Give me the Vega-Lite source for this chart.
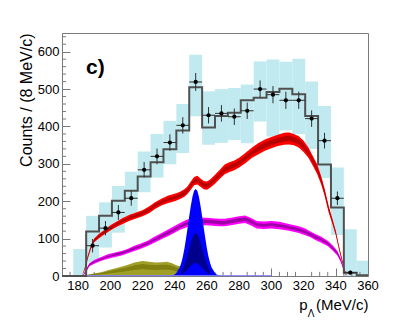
{
  "$schema": "https://vega.github.io/schema/vega-lite/v6.json",
  "width": 306,
  "height": 243,
  "autosize": {"type": "none"},
  "padding": {"left": 62, "top": 33, "right": 41, "bottom": 51},
  "background": "white",
  "config": {"view": {"stroke": "#7a7a7a", "strokeWidth": 1}, "font": "Liberation Sans", "axis": {"labelOverlap": false, "labelFlush": false}},
  "datasets": {
    "boxes": [
      {"x":177,"x2":185,"lo":0,"hi":72},
      {"x":185,"x2":193,"lo":36,"hi":161},
      {"x":193,"x2":201,"lo":76,"hi":197},
      {"x":201,"x2":209,"lo":116,"hi":241},
      {"x":209,"x2":217,"lo":159,"hi":279},
      {"x":217,"x2":225,"lo":224,"hi":333},
      {"x":225,"x2":233,"lo":263,"hi":380},
      {"x":233,"x2":241,"lo":299,"hi":415},
      {"x":241,"x2":249,"lo":329,"hi":460},
      {"x":249,"x2":257,"lo":427,"hi":592},
      {"x":257,"x2":265,"lo":351,"hi":494},
      {"x":265,"x2":273,"lo":356,"hi":500},
      {"x":273,"x2":281,"lo":364,"hi":503},
      {"x":281,"x2":289,"lo":355,"hi":512},
      {"x":289,"x2":297,"lo":413,"hi":574},
      {"x":297,"x2":305,"lo":373,"hi":579},
      {"x":305,"x2":313,"lo":390,"hi":573},
      {"x":313,"x2":321,"lo":380,"hi":581},
      {"x":321,"x2":329,"lo":340,"hi":520},
      {"x":329,"x2":337,"lo":262,"hi":455},
      {"x":337,"x2":345,"lo":110,"hi":290},
      {"x":345,"x2":353,"lo":0,"hi":125},
      {"x":353,"x2":361,"lo":0,"hi":41}
    ],
    "steps": [
      {"x":170,"y":0},{"x":185,"y":119},{"x":193,"y":161},{"x":201,"y":201},{"x":209,"y":228},
      {"x":217,"y":266},{"x":225,"y":304},{"x":233,"y":339},{"x":241,"y":389},{"x":249,"y":505},
      {"x":257,"y":397},{"x":265,"y":428},{"x":273,"y":437},{"x":281,"y":470},{"x":289,"y":477},
      {"x":297,"y":492},{"x":305,"y":501},{"x":313,"y":486},{"x":321,"y":428},{"x":329,"y":298},
      {"x":337,"y":183},{"x":345,"y":9},{"x":353,"y":2},{"x":360,"y":2}
    ],
    "pts": [
      {"x":189,"y":81,"lo":63,"hi":99,"xl":185,"xh":193},
      {"x":197,"y":128,"lo":109,"hi":147,"xl":193,"xh":201},
      {"x":205,"y":170,"lo":150,"hi":190,"xl":201,"xh":209},
      {"x":213,"y":208,"lo":188,"hi":228,"xl":209,"xh":217},
      {"x":221,"y":284,"lo":263,"hi":305,"xl":217,"xh":225},
      {"x":229,"y":320,"lo":299,"hi":341,"xl":225,"xh":233},
      {"x":237,"y":357,"lo":335,"hi":379,"xl":233,"xh":241},
      {"x":245,"y":403,"lo":381,"hi":425,"xl":241,"xh":249},
      {"x":253,"y":519,"lo":495,"hi":543,"xl":249,"xh":257},
      {"x":261,"y":430,"lo":408,"hi":452,"xl":257,"xh":265},
      {"x":269,"y":435,"lo":413,"hi":457,"xl":265,"xh":273},
      {"x":277,"y":426,"lo":404,"hi":448,"xl":273,"xh":281},
      {"x":285,"y":442,"lo":420,"hi":464,"xl":281,"xh":289},
      {"x":293,"y":500,"lo":477,"hi":523,"xl":289,"xh":297},
      {"x":301,"y":485,"lo":462,"hi":508,"xl":297,"xh":305},
      {"x":309,"y":470,"lo":447,"hi":493,"xl":305,"xh":313},
      {"x":317,"y":470,"lo":447,"hi":493,"xl":313,"xh":321},
      {"x":325,"y":421,"lo":399,"hi":443,"xl":321,"xh":329},
      {"x":333,"y":362,"lo":341,"hi":383,"xl":329,"xh":337},
      {"x":341,"y":208,"lo":190,"hi":226,"xl":337,"xh":345},
      {"x":349,"y":9,"lo":4,"hi":14,"xl":345,"xh":353}
    ],
    "red": [
      {"x":182.5,"lo":0,"hi":1,"ilo":0,"ihi":0},
      {"x":184,"lo":15,"hi":21,"ilo":17,"ihi":19},
      {"x":186,"lo":46,"hi":54,"ilo":48,"ihi":52},
      {"x":188,"lo":73,"hi":83,"ilo":76,"ihi":80},
      {"x":190,"lo":90,"hi":100,"ilo":92,"ihi":98},
      {"x":193,"lo":101,"hi":113,"ilo":104,"ihi":110},
      {"x":196.5,"lo":112,"hi":124,"ilo":115,"ihi":121},
      {"x":200,"lo":122,"hi":136,"ilo":126,"ihi":132},
      {"x":204,"lo":132,"hi":146,"ilo":136,"ihi":142},
      {"x":208,"lo":140,"hi":156,"ilo":145,"ihi":151},
      {"x":212,"lo":148,"hi":164,"ilo":152,"ihi":160},
      {"x":216,"lo":154,"hi":170,"ilo":158,"ihi":166},
      {"x":220,"lo":160,"hi":176,"ilo":164,"ihi":172},
      {"x":224,"lo":168,"hi":186,"ilo":173,"ihi":181},
      {"x":228,"lo":180,"hi":198,"ilo":185,"ihi":193},
      {"x":232,"lo":189,"hi":207,"ilo":194,"ihi":202},
      {"x":236,"lo":195,"hi":215,"ilo":201,"ihi":209},
      {"x":240,"lo":200,"hi":220,"ilo":206,"ihi":214},
      {"x":243,"lo":205,"hi":225,"ilo":210,"ihi":220},
      {"x":246,"lo":212,"hi":232,"ilo":217,"ihi":227},
      {"x":248,"lo":220,"hi":240,"ilo":225,"ihi":235},
      {"x":250,"lo":231,"hi":253,"ilo":237,"ihi":247},
      {"x":252,"lo":243,"hi":265,"ilo":249,"ihi":259},
      {"x":254,"lo":245,"hi":268,"ilo":251,"ihi":261},
      {"x":256,"lo":239,"hi":261,"ilo":245,"ihi":255},
      {"x":258,"lo":232,"hi":254,"ilo":238,"ihi":248},
      {"x":260,"lo":231,"hi":253,"ilo":237,"ihi":247},
      {"x":262,"lo":236,"hi":258,"ilo":242,"ihi":252},
      {"x":265,"lo":247,"hi":271,"ilo":254,"ihi":264},
      {"x":268,"lo":260,"hi":284,"ilo":267,"ihi":277},
      {"x":271,"lo":272,"hi":298,"ilo":279,"ihi":291},
      {"x":274,"lo":278,"hi":304,"ilo":285,"ihi":297},
      {"x":277,"lo":283,"hi":309,"ilo":290,"ihi":302},
      {"x":280,"lo":290,"hi":316,"ilo":297,"ihi":309},
      {"x":284,"lo":302,"hi":330,"ilo":310,"ihi":322},
      {"x":288,"lo":316,"hi":344,"ilo":324,"ihi":336},
      {"x":292,"lo":326,"hi":356,"ilo":334,"ihi":348},
      {"x":296,"lo":335,"hi":365,"ilo":343,"ihi":357},
      {"x":300,"lo":342,"hi":372,"ilo":350,"ihi":364},
      {"x":304,"lo":348,"hi":378,"ilo":356,"ihi":370},
      {"x":308,"lo":351,"hi":383,"ilo":360,"ihi":374},
      {"x":311,"lo":352,"hi":384,"ilo":361,"ihi":375},
      {"x":314,"lo":350,"hi":380,"ilo":358,"ihi":372},
      {"x":317,"lo":344,"hi":374,"ilo":352,"ihi":366},
      {"x":320,"lo":332,"hi":362,"ilo":340,"ihi":354},
      {"x":323,"lo":316,"hi":344,"ilo":324,"ihi":336},
      {"x":326,"lo":293,"hi":319,"ilo":300,"ihi":312},
      {"x":328.5,"lo":272,"hi":298,"ilo":279,"ihi":291},
      {"x":331,"lo":244,"hi":266,"ilo":250,"ihi":260},
      {"x":333,"lo":215,"hi":235,"ilo":220,"ihi":230},
      {"x":335.5,"lo":171,"hi":189,"ilo":176,"ihi":184},
      {"x":338,"lo":138,"hi":152,"ilo":142,"ihi":148},
      {"x":340,"lo":109,"hi":121,"ilo":112,"ihi":118},
      {"x":342,"lo":70,"hi":80,"ilo":73,"ihi":77},
      {"x":344,"lo":36,"hi":44,"ilo":38,"ihi":42},
      {"x":345.5,"lo":12,"hi":18,"ilo":14,"ihi":16},
      {"x":347,"lo":0,"hi":1,"ilo":0,"ihi":0}
    ],
    "mag": [
      {"x":183,"lo":0,"hi":1,"ilo":0,"ihi":0},
      {"x":185,"lo":11,"hi":19,"ilo":13,"ihi":17},
      {"x":187,"lo":26,"hi":34,"ilo":28,"ihi":32},
      {"x":190,"lo":33,"hi":43,"ilo":36,"ihi":40},
      {"x":194,"lo":40,"hi":50,"ilo":43,"ihi":47},
      {"x":198.5,"lo":46,"hi":58,"ilo":50,"ihi":54},
      {"x":203,"lo":51,"hi":63,"ilo":54,"ihi":60},
      {"x":207,"lo":55,"hi":67,"ilo":58,"ihi":64},
      {"x":211,"lo":61,"hi":73,"ilo":64,"ihi":70},
      {"x":215,"lo":67,"hi":81,"ilo":71,"ihi":77},
      {"x":219,"lo":73,"hi":87,"ilo":77,"ihi":83},
      {"x":223.5,"lo":81,"hi":95,"ilo":85,"ihi":91},
      {"x":227,"lo":88,"hi":104,"ilo":93,"ihi":99},
      {"x":231,"lo":97,"hi":113,"ilo":101,"ihi":109},
      {"x":237,"lo":109,"hi":127,"ilo":114,"ihi":122},
      {"x":243,"lo":123,"hi":141,"ilo":128,"ihi":136},
      {"x":247,"lo":130,"hi":150,"ilo":136,"ihi":144},
      {"x":250,"lo":134,"hi":154,"ilo":140,"ihi":149},
      {"x":255,"lo":136,"hi":156,"ilo":141,"ihi":151},
      {"x":260,"lo":136,"hi":156,"ilo":141,"ihi":151},
      {"x":265,"lo":134,"hi":154,"ilo":140,"ihi":149},
      {"x":268,"lo":133,"hi":153,"ilo":138,"ihi":148},
      {"x":271,"lo":133,"hi":153,"ilo":138,"ihi":148},
      {"x":275,"lo":136,"hi":156,"ilo":141,"ihi":151},
      {"x":280,"lo":140,"hi":160,"ilo":145,"ihi":155},
      {"x":283.75,"lo":142,"hi":162,"ilo":147,"ihi":157},
      {"x":287,"lo":136,"hi":156,"ilo":141,"ihi":151},
      {"x":291,"lo":127,"hi":147,"ilo":133,"ihi":141},
      {"x":295,"lo":126,"hi":146,"ilo":132,"ihi":140},
      {"x":300,"lo":127,"hi":147,"ilo":133,"ihi":141},
      {"x":305,"lo":125,"hi":145,"ilo":131,"ihi":139},
      {"x":310,"lo":122,"hi":140,"ilo":127,"ihi":135},
      {"x":313,"lo":119,"hi":137,"ilo":124,"ihi":132},
      {"x":317,"lo":115,"hi":133,"ilo":120,"ihi":128},
      {"x":321,"lo":109,"hi":127,"ilo":114,"ihi":122},
      {"x":324,"lo":104,"hi":120,"ilo":108,"ihi":116},
      {"x":327,"lo":97,"hi":113,"ilo":101,"ihi":109},
      {"x":331,"lo":89,"hi":105,"ilo":94,"ihi":101},
      {"x":335,"lo":80,"hi":94,"ilo":84,"ihi":90},
      {"x":338,"lo":68,"hi":82,"ilo":72,"ihi":78},
      {"x":341,"lo":55,"hi":67,"ilo":58,"ihi":64},
      {"x":343,"lo":38,"hi":48,"ilo":41,"ihi":45},
      {"x":345,"lo":14,"hi":22,"ilo":16,"ihi":20},
      {"x":346.5,"lo":0,"hi":1,"ilo":0,"ihi":0}
    ],
    "blue": [
      {"x":236,"hi":0},{"x":238,"hi":1},{"x":240,"hi":4},{"x":241,"hi":8},{"x":243,"hi":22},
      {"x":244,"hi":34},{"x":245,"hi":51},{"x":246,"hi":73},{"x":247,"hi":100},{"x":248,"hi":129},
      {"x":249,"hi":160},{"x":250,"hi":188},{"x":251,"hi":212},{"x":252,"hi":228},{"x":253,"hi":233},
      {"x":254,"hi":228},{"x":255,"hi":212},{"x":256,"hi":188},{"x":257,"hi":160},{"x":258,"hi":129},
      {"x":259,"hi":100},{"x":260,"hi":73},{"x":261,"hi":51},{"x":262,"hi":34},{"x":263,"hi":22},
      {"x":265,"hi":8},{"x":266,"hi":4},{"x":268,"hi":1},{"x":270,"hi":0}
    ],
    "navy": [
      {"x":244,"lo":4,"hi":13},{"x":245,"lo":6,"hi":20},{"x":246,"lo":9,"hi":31},{"x":247,"lo":13,"hi":43},
      {"x":248,"lo":18,"hi":58},{"x":249,"lo":23,"hi":75},{"x":250,"lo":27,"hi":90},{"x":251,"lo":31,"hi":103},
      {"x":252,"lo":34,"hi":112},{"x":253,"lo":35,"hi":115},{"x":254,"lo":34,"hi":112},{"x":255,"lo":31,"hi":103},
      {"x":256,"lo":27,"hi":90},{"x":257,"lo":23,"hi":75},{"x":258,"lo":18,"hi":58},{"x":259,"lo":13,"hi":43},
      {"x":260,"lo":9,"hi":31},{"x":261,"lo":6,"hi":20},{"x":262,"lo":4,"hi":13}
    ],
    "olive": [
      {"x":183,"hi":0,"ilo":0,"ihi":0},{"x":185,"hi":3,"ilo":1,"ihi":2},{"x":190,"hi":7,"ilo":3,"ihi":6},
      {"x":195,"hi":11,"ilo":5,"ihi":9},{"x":199,"hi":16,"ilo":7,"ihi":13},{"x":205,"hi":23,"ilo":10,"ihi":18},
      {"x":210,"hi":29,"ilo":13,"ihi":23},{"x":215,"hi":36,"ilo":16,"ihi":29},{"x":220,"hi":40,"ilo":18,"ihi":32},
      {"x":224,"hi":38,"ilo":17,"ihi":30},{"x":228,"hi":36,"ilo":16,"ihi":29},{"x":232,"hi":37,"ilo":17,"ihi":30},
      {"x":235,"hi":38,"ilo":17,"ihi":30},{"x":238,"hi":35,"ilo":16,"ihi":28},{"x":241,"hi":29,"ilo":13,"ihi":23},
      {"x":244,"hi":25,"ilo":11,"ihi":20},{"x":247,"hi":21,"ilo":9,"ihi":17},{"x":250,"hi":15,"ilo":7,"ihi":12},
      {"x":253,"hi":9,"ilo":4,"ihi":7},{"x":256,"hi":5,"ilo":2,"ihi":4},{"x":259,"hi":2,"ilo":1,"ihi":2},
      {"x":262,"hi":0,"ilo":0,"ihi":0}
    ],
    "base": [{"x":183,"y":1},{"x":300,"y":1}],
    "xt": [{"v":175},{"v":185},{"v":190},{"v":195},{"v":205},{"v":210},{"v":215},{"v":225},{"v":230},{"v":235},
           {"v":245},{"v":250},{"v":255},{"v":265},{"v":270},{"v":275},{"v":285},{"v":290},{"v":295},
           {"v":305},{"v":310},{"v":315},{"v":325},{"v":330},{"v":335},{"v":345},{"v":350},{"v":355}],
    "yt": [{"v":20},{"v":40},{"v":60},{"v":80},{"v":120},{"v":140},{"v":160},{"v":180},{"v":220},{"v":240},
           {"v":260},{"v":280},{"v":320},{"v":340},{"v":360},{"v":380},{"v":420},{"v":440},{"v":460},{"v":480},
           {"v":520},{"v":540},{"v":560},{"v":580},{"v":620},{"v":640}],
    "xlab": [{"v":180},{"v":200},{"v":220},{"v":240},{"v":260},{"v":280},{"v":300},{"v":320},{"v":340},{"v":360}],
    "labels": [
      {"x":184.9,"y":540,"t":"c)","s":"c"},
      {"x":324.6,"y":-110,"t":"Λ","s":"l"}
    ]
  },
  "layer": [
    {
      "data": {"name": "boxes"},
      "mark": {"type": "rect", "fill": "#c0eaef", "clip": true},
      "encoding": {
        "x": {
          "field": "x", "type": "quantitative",
          "scale": {"domain": [170, 360], "nice": false, "zero": false},
          "axis": {
            "values": [180,200,220,240,260,280,300,320,340,360],
            "labels": false,
            "tickSize": -8,
            "tickColor": "#7a7a7a", "domainColor": "#7a7a7a", "grid": false,
            "title": "p\u00a0\u00a0(MeV/c)", "titleAnchor": "end", "titleFont": "Liberation Sans",
            "titleFontSize": 15, "titleFontWeight": "normal", "titleColor": "black", "titlePadding": 21
          }
        },
        "x2": {"field": "x2"},
        "y": {
          "field": "lo", "type": "quantitative",
          "scale": {"domain": [0, 650], "nice": false, "zero": false},
          "axis": {
            "values": [0,100,200,300,400,500,600],
            "format": "d",
            "labelOverlap": false, "labelFlush": false,
            "labelFont": "Liberation Sans", "labelFontSize": 13, "labelColor": "black",
            "labelPadding": 11,
            "tickSize": -8,
            "tickColor": "#7a7a7a", "domainColor": "#7a7a7a", "grid": false,
            "title": "Counts / (8 MeV/c)", "titleAnchor": "end", "titleFont": "Liberation Sans",
            "titleFontSize": 16, "titleFontWeight": "normal", "titleColor": "black", "titlePadding": 3
          }
        },
        "y2": {"field": "hi"}
      }
    },
    {
      "data": {"name": "xt"},
      "mark": {"type": "rule", "color": "#7a7a7a", "strokeWidth": 1},
      "encoding": {"x": {"field": "v", "type": "quantitative"}, "y": {"datum": 0, "type": "quantitative"}, "y2": {"datum": 11}}
    },
    {
      "data": {"name": "yt"},
      "mark": {"type": "rule", "color": "#7a7a7a", "strokeWidth": 1},
      "encoding": {"y": {"field": "v", "type": "quantitative"}, "x": {"datum": 170, "type": "quantitative"}, "x2": {"datum": 172.5}}
    },
    {
      "data": {"name": "olive"},
      "mark": {"type": "area", "color": "#a0a028", "opacity": 1},
      "encoding": {"x": {"field": "x", "type": "quantitative"}, "y": {"field": "hi", "type": "quantitative"}, "y2": {"datum": 0}}
    },
    {
      "data": {"name": "olive"},
      "mark": {"type": "area", "color": "#808010"},
      "encoding": {"x": {"field": "x", "type": "quantitative"}, "y": {"field": "ilo", "type": "quantitative"}, "y2": {"field": "ihi"}}
    },
    {
      "data": {"name": "red"},
      "mark": {"type": "area", "color": "#ff0000"},
      "encoding": {"x": {"field": "x", "type": "quantitative"}, "y": {"field": "lo", "type": "quantitative"}, "y2": {"field": "hi"}}
    },
    {
      "data": {"name": "red"},
      "mark": {"type": "area", "color": "#b80000"},
      "encoding": {"x": {"field": "x", "type": "quantitative"}, "y": {"field": "ilo", "type": "quantitative"}, "y2": {"field": "ihi"}}
    },
    {
      "data": {"name": "mag"},
      "mark": {"type": "area", "color": "#ff00ff"},
      "encoding": {"x": {"field": "x", "type": "quantitative"}, "y": {"field": "lo", "type": "quantitative"}, "y2": {"field": "hi"}}
    },
    {
      "data": {"name": "mag"},
      "mark": {"type": "area", "color": "#a000a8"},
      "encoding": {"x": {"field": "x", "type": "quantitative"}, "y": {"field": "ilo", "type": "quantitative"}, "y2": {"field": "ihi"}}
    },
    {
      "data": {"name": "blue"},
      "mark": {"type": "area", "color": "#0000ff"},
      "encoding": {"x": {"field": "x", "type": "quantitative"}, "y": {"field": "hi", "type": "quantitative"}, "y2": {"datum": 0}}
    },
    {
      "data": {"name": "navy"},
      "mark": {"type": "area", "color": "#00008c"},
      "encoding": {"x": {"field": "x", "type": "quantitative"}, "y": {"field": "lo", "type": "quantitative"}, "y2": {"field": "hi"}}
    },
    {
      "data": {"name": "base"},
      "mark": {"type": "line", "color": "#8080ff", "strokeWidth": 1},
      "encoding": {"x": {"field": "x", "type": "quantitative"}, "y": {"field": "y", "type": "quantitative"}}
    },
    {
      "data": {"name": "steps"},
      "mark": {"type": "line", "interpolate": "step-after", "color": "#505050", "strokeWidth": 2},
      "encoding": {"x": {"field": "x", "type": "quantitative"}, "y": {"field": "y", "type": "quantitative"}}
    },
    {
      "data": {"name": "pts"},
      "mark": {"type": "rule", "color": "#303030", "strokeWidth": 1},
      "encoding": {"x": {"field": "x", "type": "quantitative"}, "y": {"field": "lo", "type": "quantitative"}, "y2": {"field": "hi"}}
    },
    {
      "data": {"name": "pts"},
      "mark": {"type": "rule", "color": "#303030", "strokeWidth": 1},
      "encoding": {"x": {"field": "xl", "type": "quantitative"}, "x2": {"field": "xh"}, "y": {"field": "y", "type": "quantitative"}}
    },
    {
      "data": {"name": "pts"},
      "mark": {"type": "point", "shape": "circle", "filled": true, "color": "black", "size": 18, "opacity": 1},
      "encoding": {"x": {"field": "x", "type": "quantitative"}, "y": {"field": "y", "type": "quantitative"}}
    },
    {
      "data": {"name": "xlab"},
      "mark": {"type": "text", "font": "Liberation Sans", "fontSize": 13, "align": "center", "baseline": "top", "color": "black"},
      "encoding": {"x": {"field": "v", "type": "quantitative"}, "y": {"datum": -10.7, "type": "quantitative"}, "text": {"field": "v", "type": "quantitative", "format": "d"}}
    },
    {
      "data": {"name": "labels"},
      "transform": [{"filter": "datum.s === 'c'"}],
      "mark": {"type": "text", "font": "Liberation Sans", "fontSize": 21, "fontWeight": "bold", "align": "left", "baseline": "alphabetic", "color": "black"},
      "encoding": {"x": {"field": "x", "type": "quantitative"}, "y": {"field": "y", "type": "quantitative"}, "text": {"field": "t"}}
    },
    {
      "data": {"name": "labels"},
      "transform": [{"filter": "datum.s === 'l'"}],
      "mark": {"type": "text", "font": "Liberation Sans", "fontSize": 10, "align": "center", "baseline": "alphabetic", "color": "black"},
      "encoding": {"x": {"field": "x", "type": "quantitative"}, "y": {"field": "y", "type": "quantitative"}, "text": {"field": "t"}}
    }
  ]
}
